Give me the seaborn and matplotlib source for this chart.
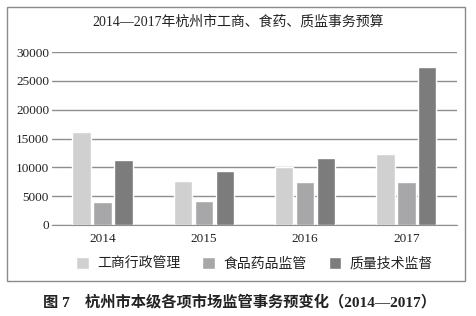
import pandas as pd
import matplotlib.pyplot as plt
import seaborn as sns
from matplotlib.patches import Rectangle

years = ['2014', '2015', '2016', '2017']
categories = ['工商行政管理', '食品药品监管', '质量技术监督']
gongshang = [16100, 7700, 10000, 12300]
shiyao = [4000, 4200, 7500, 7400]
zhijian = [11300, 9400, 11700, 27500]
colors = ['#d0d0d0', '#a7a7a9', '#7c7c7c']

df = pd.DataFrame({
    '年份': years * 3,
    '类别': [c for c in categories for _ in years],
    '预算': gongshang + shiyao + zhijian,
})

sns.set_style('white')
plt.rcParams['font.family'] = ['Liberation Serif', 'Noto Sans CJK SC']

fig = plt.figure(figsize=(4.76, 3.16), dpi=100)
ax = fig.add_axes([0.109, 0.288, 0.851, 0.547])

sns.barplot(data=df, x='年份', y='预算', hue='类别', palette=colors,
            width=0.62, gap=0.12, saturation=1, ax=ax, legend=True)

ax.set_ylim(0, 30000)
ax.set_xlim(-0.5, 3.5)
ax.set_yticks(range(0, 30001, 5000))
ax.yaxis.grid(True, color='#8e8e8e', lw=1)
ax.set_axisbelow(True)
for s in ['left', 'right', 'top']:
    ax.spines[s].set_visible(False)
ax.spines['bottom'].set_color('#8e8e8e')
ax.tick_params(axis='both', length=0, labelsize=9.5, colors='#222222')
ax.tick_params(axis='y', pad=2)
ax.tick_params(axis='x', pad=6)
ax.set_xlabel('')
ax.set_ylabel('')

ax.legend(loc='center', bbox_to_anchor=(0.5, -0.225), ncol=3, frameon=False,
          fontsize=10, handlelength=0.9, handleheight=0.9, handletextpad=0.6,
          columnspacing=1.6, labelcolor='#222222')

fig.text(0.5, 0.93, '2014—2017年杭州市工商、食药、质监事务预算', ha='center', va='center',
         fontsize=10, color='#222222')

# outer frame
fig.patches.append(Rectangle((7 / 476, 1 - 281 / 316), 458 / 476, 274 / 316,
                             transform=fig.transFigure, fill=False,
                             edgecolor='#8a8a8a', lw=1))

fig.text(43 / 476, 1 - 302 / 316, '图 7　杭州市本级各项市场监管事务预变化（2014—2017）',
         ha='left', va='center', fontsize=11, fontweight='bold', color='#222222')

fig.savefig('out.png', dpi=100)
